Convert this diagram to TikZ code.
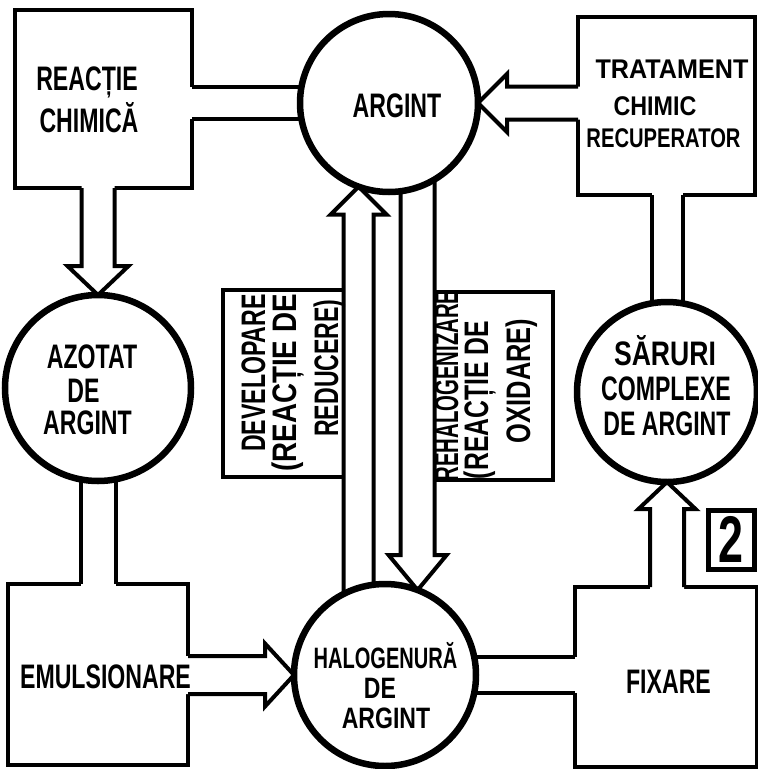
\documentclass[tikz,border=0pt]{standalone}
\usepackage{fontspec}
\setmainfont{Liberation Sans}[FakeStretch=0.68]
\usetikzlibrary{calc}
\pgfdeclarelayer{back}
\pgfdeclarelayer{mid}
\pgfsetlayers{back,mid,main}
\newcommand{\sx}[2]{\scalebox{#1}[1]{#2}}
% fat arrow: #1 start, #2 tip, #3 shaft half width, #4 head half width, #5 head length
\newcommand{\fatarrow}[5]{%
  \coordinate (aB) at ($(#2)!#5!(#1)$);
  \coordinate (aS) at ($(#1)!-3pt!(#2)$);
  \fill[hole] ($(aS)!#3!90:(#2)$) -- ($(aB)!#3!90:(#2)$) -- ($(aB)!#4!90:(#2)$) -- (#2)
    -- ($(aB)!#4!-90:(#2)$) -- ($(aB)!#3!-90:(#2)$) -- ($(aS)!#3!-90:(#2)$) -- cycle;
  \draw[rim] ($(#1)!#3!90:(#2)$) -- ($(aB)!#3!90:(#2)$) -- ($(aB)!#4!90:(#2)$) -- (#2)
    -- ($(aB)!#4!-90:(#2)$) -- ($(aB)!#3!-90:(#2)$) -- ($(#1)!#3!-90:(#2)$);
}
% fat band: #1 start, #2 end, #3 half width
\newcommand{\fatband}[3]{%
  \coordinate (aS) at ($(#1)!-3pt!(#2)$);
  \coordinate (aE) at ($(#2)!-3pt!(#1)$);
  \fill[hole] ($(aS)!#3!90:(#2)$) -- ($(aE)!#3!-90:(#1)$) -- ($(aE)!#3!90:(#1)$) -- ($(aS)!#3!-90:(#2)$) -- cycle;
  \draw[rim] ($(#1)!#3!90:(#2)$) -- ($(#2)!#3!-90:(#1)$);
  \draw[rim] ($(#1)!#3!-90:(#2)$) -- ($(#2)!#3!90:(#1)$);
}
\begin{document}
\begin{tikzpicture}[x=1pt,y=-1pt,
  box/.style={draw, line width=4pt, fill=white, rectangle, inner sep=0pt, outer sep=0pt},
  ring/.style={draw, line width=6.5pt, fill=white, circle, inner sep=0pt, outer sep=0pt},
  rim/.style={line width=4pt, line cap=square, line join=miter},
  hole/.style={fill=white, draw=none},
  txt/.style={font=\fontsize{34}{34}\selectfont\bfseries, inner sep=0pt, anchor=base},
  txh/.style={font=\fontsize{29.5}{29.5}\selectfont\bfseries, inner sep=0pt, anchor=base},
  tsm/.style={font=\fontsize{27}{27}\selectfont\bfseries, inner sep=0pt, anchor=base},
  vtxt/.style={txt, rotate=90},
]
\useasboundingbox (0,0) rectangle (758,769);

\begin{pgfonlayer}{back}
  \fill[white] (0,0) rectangle (758,769);
  \node[box, minimum width=177pt, minimum height=178pt] (rc) at (103.5,99) {};
  \node[box, minimum width=177pt, minimum height=178pt] (tr) at (666.5,106) {};
  \node[box, minimum width=180pt, minimum height=181pt] (em) at (98,674.5) {};
  \node[box, minimum width=182pt, minimum height=180pt] (fx) at (666,677) {};
\end{pgfonlayer}

\node[ring, minimum size=178pt] (ar) at (389,103) {};
\node[ring, minimum size=186pt] (az) at (98,388) {};
\node[ring, minimum size=180pt] (sa) at (667,392) {};
\node[ring, minimum size=182pt] (ha) at (385,675) {};

\begin{pgfonlayer}{mid}
  \node[box, minimum width=121pt, minimum height=187pt] (dev) at (283.5,383.5) {};
  \node[box, minimum width=119pt, minimum height=188pt] (reh) at (493.5,386) {};
  \fatband{rc.east |- ar.center}{ar.center}{16pt}
  \fatarrow{rc.south -| az.center}{az.north}{16.5pt}{30.5pt}{29pt}
  \fatarrow{tr.west |- ar.center}{ar.east}{16.5pt}{29pt}{29pt}
  \fatband{tr.south -| sa.center}{sa.center}{15.5pt}
  \fatband{az.center}{em.north -| az.center}{17.5pt}
  \fatarrow{em.east |- ha.center}{ha.west}{19pt}{31.5pt}{29pt}
  \fatband{ha.center}{fx.west |- ha.center}{18pt}
  \fatarrow{fx.north -| sa.center}{sa.south}{17pt}{28.5pt}{27pt}
  \fatarrow{ar.250 |- ha.center}{ar.250}{15pt}{28pt}{28pt}
  \fatarrow{ha.69.4 |- ar.center}{ha.69.4}{17pt}{29pt}{35pt}
\end{pgfonlayer}

\node[box, line width=5pt, minimum width=46pt, minimum height=59pt] (two) at (731,539.5)
  {\fontsize{66}{66}\selectfont\bfseries 2};

\node[txt] (t1) at (87,90) {REACȚIE};
\node[txt] (t2) at (89,132) {CHIMICĂ};
\node[txt] (t3) at (397,117) {ARGINT};
\node[tsm] (t4) at (672,78) {\sx{1.37}{TRATAMENT}};
\node[tsm] (t5) at (655,115) {\sx{1.27}{CHIMIC}};
\node[tsm] (t6) at (663.5,147) {\sx{1.1}{RECUPERATOR}};
\node[txt] (t7) at (92,368) {AZOTAT};
\node[txt] (t8) at (83.5,402) {DE};
\node[txt] (t9) at (87.5,434) {ARGINT};
\node[txt] (t10) at (665,365) {\sx{1.15}{SĂRURI}};
\node[txt] (t11) at (666,400) {COMPLEXE};
\node[txt] (t12) at (667,435) {DE ARGINT};
\node[txt] (t13) at (105.5,688) {EMULSIONARE};
\node[txh] (t14) at (385.5,668) {HALOGENURĂ};
\node[txh] (t15) at (380,698) {\sx{1.15}{DE}};
\node[txh] (t16) at (386,728) {\sx{1.15}{ARGINT}};
\node[txt] (t17) at (668.5,693) {FIXARE};
\node[vtxt] (t18) at (265,373) {DEVELOPARE};
\node[vtxt] (t19) at (296,383) {\sx{1.2}{(REACȚIE DE}};
\node[vtxt] (t20) at (338,368) {REDUCERE)};
\node[vtxt] (t21) at (458,386) {\sx{0.88}{REHALOGENIZARE}};
\node[vtxt] (t22) at (488,400) {\sx{1.07}{(REACȚIE DE}};
\node[vtxt] (t23) at (530,381) {\sx{1.1}{OXIDARE)}};
\end{tikzpicture}
\end{document}
